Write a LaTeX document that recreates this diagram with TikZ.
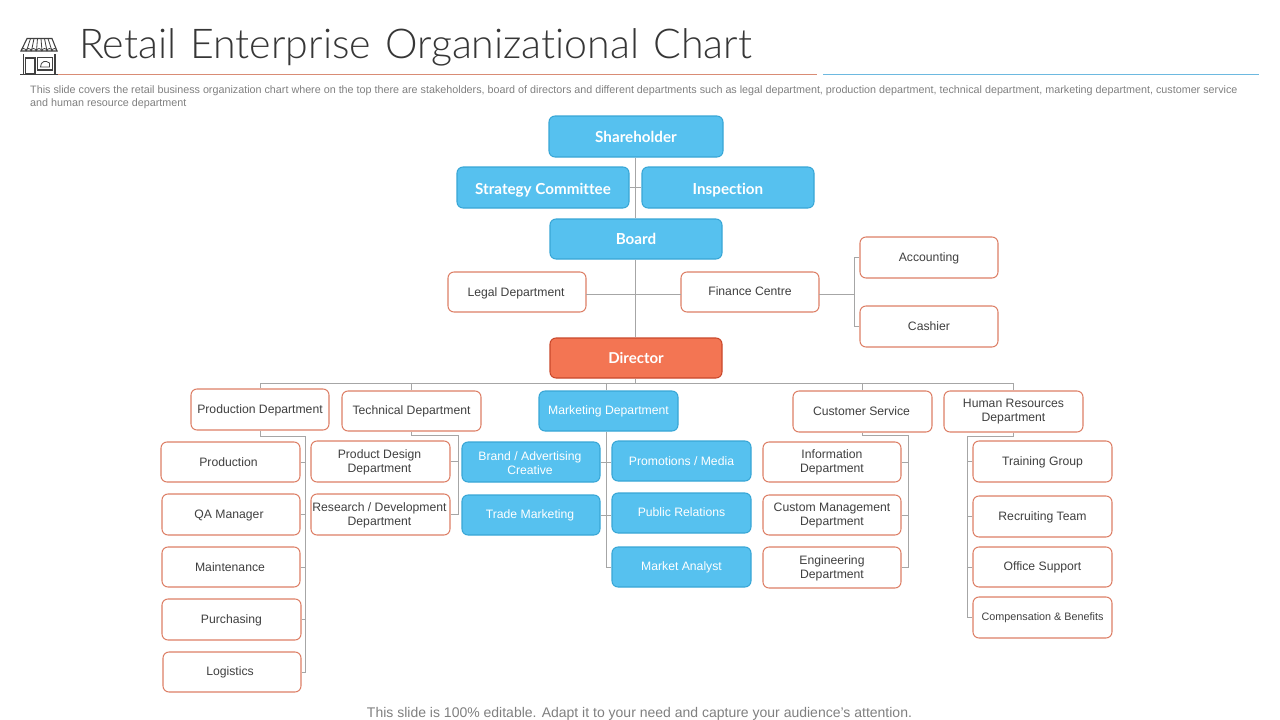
\documentclass[tikz,border=0pt]{standalone}
\usepackage{fontspec}
\setmainfont{Liberation Sans}
\newfontfamily\titlefont[UprightFont=* Light,WordSpace=1.25,Ligatures=CommonOff]{Lato}
\newfontfamily\headfont[UprightFont=* Bold,Ligatures=CommonOff]{Lato}
\definecolor{skyfill}{HTML}{56C1EF}
\definecolor{skyline}{HTML}{38A6D6}
\definecolor{redfill}{HTML}{F37553}
\definecolor{redline}{HTML}{C9482B}
\definecolor{outl}{HTML}{DD7F66}
\definecolor{wire}{HTML}{A6A6A6}
\definecolor{ink}{HTML}{404040}
\definecolor{subink}{HTML}{7F7F7F}
\definecolor{rulered}{HTML}{D98C75}
\definecolor{ruleblue}{HTML}{6DB9E0}
\tikzset{
  base/.style={rounded corners=6pt,line width=1.05pt,inner sep=0pt},
  outbox/.style={base,draw=outl,fill=white},
  bluebox/.style={base,draw=skyline,fill=skyfill},
  headbox/.style={base,draw=skyline,fill=skyfill},
  dirbox/.style={base,draw=redline,fill=redfill},
  boxtext/.style={inner sep=0pt,align=center},
  outboxtext/.style={boxtext,text=ink,font=\fontsize{12.2}{14}\selectfont},
  blueboxtext/.style={boxtext,text=white,font=\fontsize{12.2}{14}\selectfont},
  headboxtext/.style={boxtext,text=white,font=\headfont\fontsize{15.2}{16}\selectfont},
  dirboxtext/.style={boxtext,text=white,font=\headfont\fontsize{15}{16}\selectfont},
  wireline/.style={draw=wire,line width=0.9pt},
  icon/.style={draw=ink,line width=1.1pt},
}
% \bx[label shift]{style}{name}{x1}{y1}{x2}{y2}{text}
\newcommand{\bx}[8][]{%
  \pgfmathsetmacro{\bw}{#6-#4}\pgfmathsetmacro{\bh}{#7-#5}%
  \pgfmathsetmacro{\cx}{(#4+#6)/2}\pgfmathsetmacro{\cy}{(#5+#7)/2}%
  \node[#2,minimum width=\bw pt,minimum height=\bh pt,label={[#2text,name=#3-text,#1]center:#8}] (#3) at (\cx,\cy) {};}
\begin{document}
\begin{tikzpicture}[x=1pt,y=-1pt]
\useasboundingbox (0,0) rectangle (1280,720);
% title
\node[anchor=west,inner sep=0pt,text=ink!85!black,font=\titlefont\fontsize{41.1}{44}\selectfont] (title) at (79,47.5) {Retail Enterprise Organizational Chart};
\coordinate (ra) at (58,74.5); \coordinate (rb) at (817,74.5);
\coordinate (rc) at (823,74.5); \coordinate (rd) at (1259,74.5);
\draw[rulered,line width=1pt] (ra)--(rb);
\draw[ruleblue,line width=1pt] (rc)--(rd);
\node[anchor=west,inner sep=0pt,text=subink,font=\fontsize{10.76}{12}\selectfont] (sub1) at (30,91) {This slide covers the retail business organization chart where on the top there are stakeholders, board of directors and different departments such as legal department, production department, technical department, marketing department, customer service};
\node[anchor=west,inner sep=0pt,text=subink,font=\fontsize{10.76}{12}\selectfont] (sub2) at (30,104) {and human resource department};
\node[inner sep=0pt,text=subink,font=\fontsize{14}{16}\selectfont] (foot) at (639.5,714) {This slide is 100\% editable. Adapt it to your need and capture your audience’s attention.};
% icon
\begin{scope}
\draw[icon,fill=white] (27,38.5) -- (52,38.5) -- (57,51) -- (21,51) -- cycle;
\foreach \t/\b in {30.5/26.5,34/31.5,37.5/36.5,41/42,44.5/47,48/52}{\draw[icon,line width=.8pt] (\t,38.5) -- (\b,51);}
\foreach \m in {23.5,28.5,33.5,39,44.5,49.5,54.5}{\draw[icon,line width=.8pt] (\m-2.5,51) arc[start angle=180,end angle=360,radius=2.5];}
\draw[icon] (23.5,54) -- (23.5,74) (55,54) -- (55,74);
\draw[icon,line width=1.4pt] (20,74.5) -- (58,74.5);
\draw[icon] (25.5,58) rectangle (35,74);
\draw[icon] (37.5,57.5) rectangle (52.5,70);
\draw[icon,line width=.8pt] (40.5,67) .. controls (40.5,61) and (46,60) .. (49.5,63) -- (49.5,67) -- cycle;
\end{scope}
% boxes
\bx[yshift=-0.5pt]{headbox}{share}{549}{116}{723}{157}{Shareholder}
\bx[yshift=-3pt]{headbox}{strat}{457}{167}{629}{208}{Strategy Committee}
\bx[yshift=-3pt]{headbox}{insp}{642}{167}{814}{208}{Inspection}
\bx{headbox}{board}{550}{219}{722}{259}{Board}
\bx[yshift=-1pt,xshift=-1pt]{outbox}{legal}{448}{272}{586}{312}{Legal Department}
\bx[yshift=1pt]{outbox}{fin}{681}{272}{819}{312}{Finance Centre}
\bx[yshift=-0.5pt]{outbox}{acc}{860}{237}{998}{278}{Accounting}
\bx{outbox}{cash}{860}{306}{998}{347}{Cashier}
\bx{dirbox}{dir}{550}{338}{722}{378}{Director}
\bx[yshift=-0.5pt]{outbox}{dprod}{191}{389}{329}{430}{Production Department}
\bx{outbox}{dtech}{342}{391}{481}{431}{Technical Department}
\bx[yshift=-0.5pt]{bluebox}{dmark}{539}{391}{678}{431}{Marketing Department}
\bx[xshift=-1pt]{outbox}{dcust}{793}{391}{932}{432}{Customer Service}
\bx{outbox}{dhr}{944}{391}{1083}{432}{Human Resources\\Department}
\bx[xshift=-2pt]{outbox}{p1}{161}{442}{300}{482}{Production}
\bx[xshift=-2pt,yshift=-1pt]{outbox}{p2}{162}{494}{300}{535}{QA Manager}
\bx[xshift=-1pt]{outbox}{p3}{162}{547}{300}{587}{Maintenance}
\bx[yshift=-1pt]{outbox}{p4}{162}{599}{301}{640}{Purchasing}
\bx[xshift=-2pt]{outbox}{p5}{163}{652}{301}{692}{Logistics}
\bx[xshift=-1pt,yshift=-0.5pt]{outbox}{t1}{311}{441}{450}{482}{Product Design\\Department}
\bx[xshift=-1pt,yshift=-0.5pt]{outbox}{t2}{311}{494}{450}{535}{Research / Development\\Department}
\bx[xshift=-1pt,yshift=-1pt]{bluebox}{m1}{462}{442}{600}{482}{Brand / Advertising\\Creative}
\bx[xshift=-1pt]{bluebox}{m2}{462}{495}{600}{535}{Trade Marketing}
\bx{bluebox}{m3}{612}{441}{751}{481}{Promotions / Media}
\bx[yshift=1pt]{bluebox}{m4}{612}{493}{751}{533}{Public Relations}
\bx{bluebox}{m5}{612}{547}{751}{587}{Market Analyst}
\bx{outbox}{c1}{763}{442}{901}{482}{Information\\Department}
\bx[yshift=-1pt]{outbox}{c2}{763}{495}{901}{535}{Custom Management\\Department}
\bx[yshift=-0.5pt]{outbox}{c3}{763}{547}{901}{588}{Engineering\\Department}
\bx[yshift=-0.5pt]{outbox}{h1}{973}{441}{1112}{482}{Training Group}
\bx[yshift=-0.5pt]{outbox}{h2}{973}{496}{1112}{537}{Recruiting Team}
\bx{outbox}{h3}{973}{547}{1112}{587}{Office Support}
\bx{outbox}{h4}{973}{597}{1112}{638}{\fontsize{10.8}{12}\selectfont Compensation \& Benefits}
% connector helpers
\coordinate (bus) at (635.5,383.5);
\coordinate (pv) at (305.5,436);
\coordinate (tv) at (458,435);
\coordinate (mv) at (606.5,436);
\coordinate (cv) at (908,435);
\coordinate (hv) at (967.5,436);
\coordinate (fv) at (854,294);
\coordinate (lw) at (586,294);
\coordinate (fw) at (681,294);
\coordinate (fe) at (819,294);
\draw[wireline] (bus |- share.south) -- (bus |- board.north);
\draw[wireline] (strat.east) -- (insp.west);
\draw[wireline] (bus |- board.south) -- (bus |- dir.north);
\draw[wireline] (lw) -- (fw);
\draw[wireline] (fe) -- (fv);
\draw[wireline] (acc.west) -| (fv);
\draw[wireline] (cash.west) -| (fv);
\draw[wireline] (bus |- dir.south) -- (bus);
\draw[wireline] (dprod.north) |- (bus);
\draw[wireline] (dhr.north) |- (bus);
\draw[wireline] (dtech.north) -- (dtech.north |- bus);
\draw[wireline] ([xshift=-2.5pt]dmark.north) -- ([xshift=-2.5pt]dmark.north |- bus);
\draw[wireline] (dcust.north) -- (dcust.north |- bus);
% production
\draw[wireline] (dprod.south) |- (pv);
\draw[wireline] (pv) |- (p5.east);
\foreach \n in {p1,p2,p3,p4}{\draw[wireline] (\n.east) -- (\n.east -| pv);}
% technical
\draw[wireline] (dtech.south) |- (tv);
\draw[wireline] (tv) |- (t2.east);
\draw[wireline] (t1.east) -- (t1.east -| tv);
% marketing
\draw[wireline] ([xshift=-2.5pt]dmark.south) |- (mv);
\draw[wireline] (mv) |- (m5.west);
\draw[wireline] (m1.east) -- (m3.west |- m1.east);
\draw[wireline] (m2.east) -- (m4.west |- m2.east);
% customer
\draw[wireline] (dcust.south) |- (cv);
\draw[wireline] (cv) |- (c3.east);
\foreach \n in {c1,c2}{\draw[wireline] (\n.east) -- (\n.east -| cv);}
% hr
\draw[wireline] (dhr.south) |- (hv);
\draw[wireline] (hv) |- (h4.west);
\foreach \n in {h1,h2,h3}{\draw[wireline] (\n.west) -- (\n.west -| hv);}
\end{tikzpicture}
\end{document}
